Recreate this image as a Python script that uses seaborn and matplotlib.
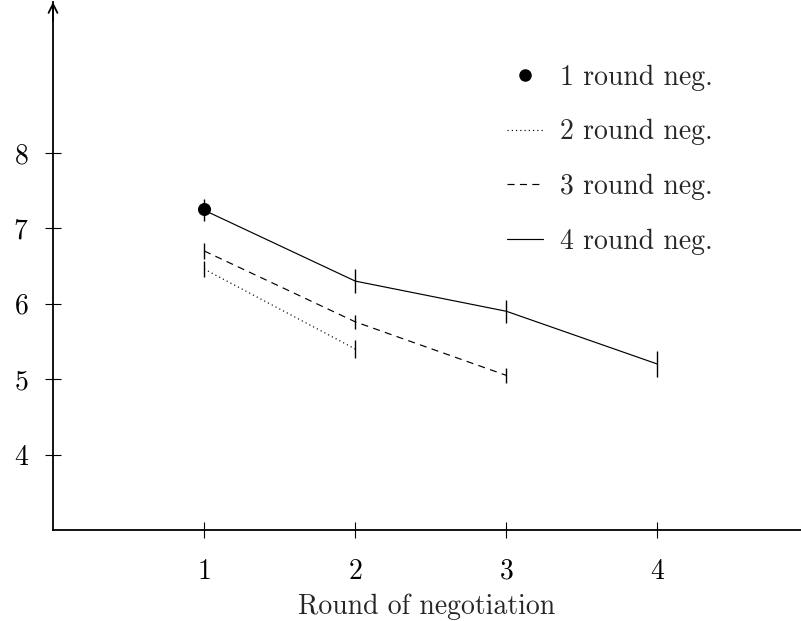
import matplotlib
matplotlib.use("Agg")
import matplotlib.pyplot as plt
from matplotlib.lines import Line2D
import seaborn as sns
import pandas as pd

# Mean rating per round, grouped by how many rounds the negotiation lasted
rounds_1 = [1]
means_1 = [7.25]

rounds_2 = [1, 2]
means_2 = [6.46, 5.40]
err_2 = [0.10, 0.12]

rounds_3 = [1, 2, 3]
means_3 = [6.70, 5.76, 5.05]
err_3 = [0.11, 0.09, 0.10]

rounds_4 = [1, 2, 3, 4]
means_4 = [7.24, 6.30, 5.90, 5.20]
err_4 = [0.15, 0.16, 0.15, 0.17]

series_names = ["1 round neg.", "2 round neg.", "3 round neg.", "4 round neg."]
x_ticks = [1, 2, 3, 4]
y_ticks = [4, 5, 6, 7, 8]
x_label = "Round of negotiation"

sns.set_style("white")
plt.rcParams["font.family"] = ["cmr10", "DejaVu Serif"]
plt.rcParams["mathtext.fontset"] = "cm"
plt.rcParams["axes.formatter.use_mathtext"] = True

df = pd.DataFrame({
    "round": rounds_2 + rounds_3 + rounds_4,
    "mean": means_2 + means_3 + means_4,
    "series": [series_names[1]] * len(rounds_2)
              + [series_names[2]] * len(rounds_3)
              + [series_names[3]] * len(rounds_4),
})

fig = plt.figure(figsize=(8.01, 6.21), dpi=100)
ax = fig.add_axes([53 / 801, 91 / 621, 1 - 53 / 801, 528 / 621])

line_w = 0.85
dash_map = {
    series_names[1]: (1, 2.6),
    series_names[2]: (6, 4.5),
    series_names[3]: "",
}
sns.lineplot(data=df, x="round", y="mean", style="series", dashes=dash_map,
             color="black", linewidth=line_w, legend=False, ax=ax,
             errorbar=None, sort=True)
sns.scatterplot(x=rounds_1, y=means_1, color="black", s=75, ax=ax,
                edgecolor="black", zorder=5, legend=False)

for xs, ys, es in [(rounds_2, means_2, err_2), (rounds_3, means_3, err_3),
                   (rounds_4, means_4, err_4)]:
    ax.errorbar(xs, ys, yerr=es, fmt="none", ecolor="black",
                elinewidth=1.0, capsize=0)

ax.set_xlim(0, 4.95)
ax.set_ylim(3, 10)
ax.set_xticks(x_ticks)
ax.set_yticks(y_ticks)
ax.set_xlabel(x_label, fontsize=20, labelpad=6)
ax.set_ylabel("")

for s in ["top", "right"]:
    ax.spines[s].set_visible(False)
for s in ["left", "bottom"]:
    ax.spines[s].set_linewidth(1.3)
    ax.spines[s].set_color("black")

ax.tick_params(axis="both", direction="inout", length=11, width=0.8,
               labelsize=20, colors="black", bottom=True, left=True)
ax.tick_params(axis="y", pad=12)
ax.tick_params(axis="x", pad=15)

ax.annotate("", xy=(0, 1.0), xytext=(0, 0.965), xycoords="axes fraction",
            arrowprops=dict(arrowstyle="->", lw=1.3, color="black",
                            mutation_scale=16, shrinkA=0, shrinkB=0),
            annotation_clip=False)

handles = [
    Line2D([], [], color="black", marker="o", markersize=8, linestyle="none"),
    Line2D([], [], color="black", lw=line_w, dashes=(1, 2.6)),
    Line2D([], [], color="black", lw=line_w, dashes=(6, 4.5)),
    Line2D([], [], color="black", lw=line_w),
]
ax.legend(handles, series_names, loc="center left",
          bbox_to_anchor=(507 / 801, 1 - 159.5 / 621),
          bbox_transform=fig.transFigure, frameon=False, fontsize=20,
          handlelength=1.3, handletextpad=0.6, labelspacing=1.02,
          borderpad=0, borderaxespad=0)

fig.savefig("out.png", dpi=100)
